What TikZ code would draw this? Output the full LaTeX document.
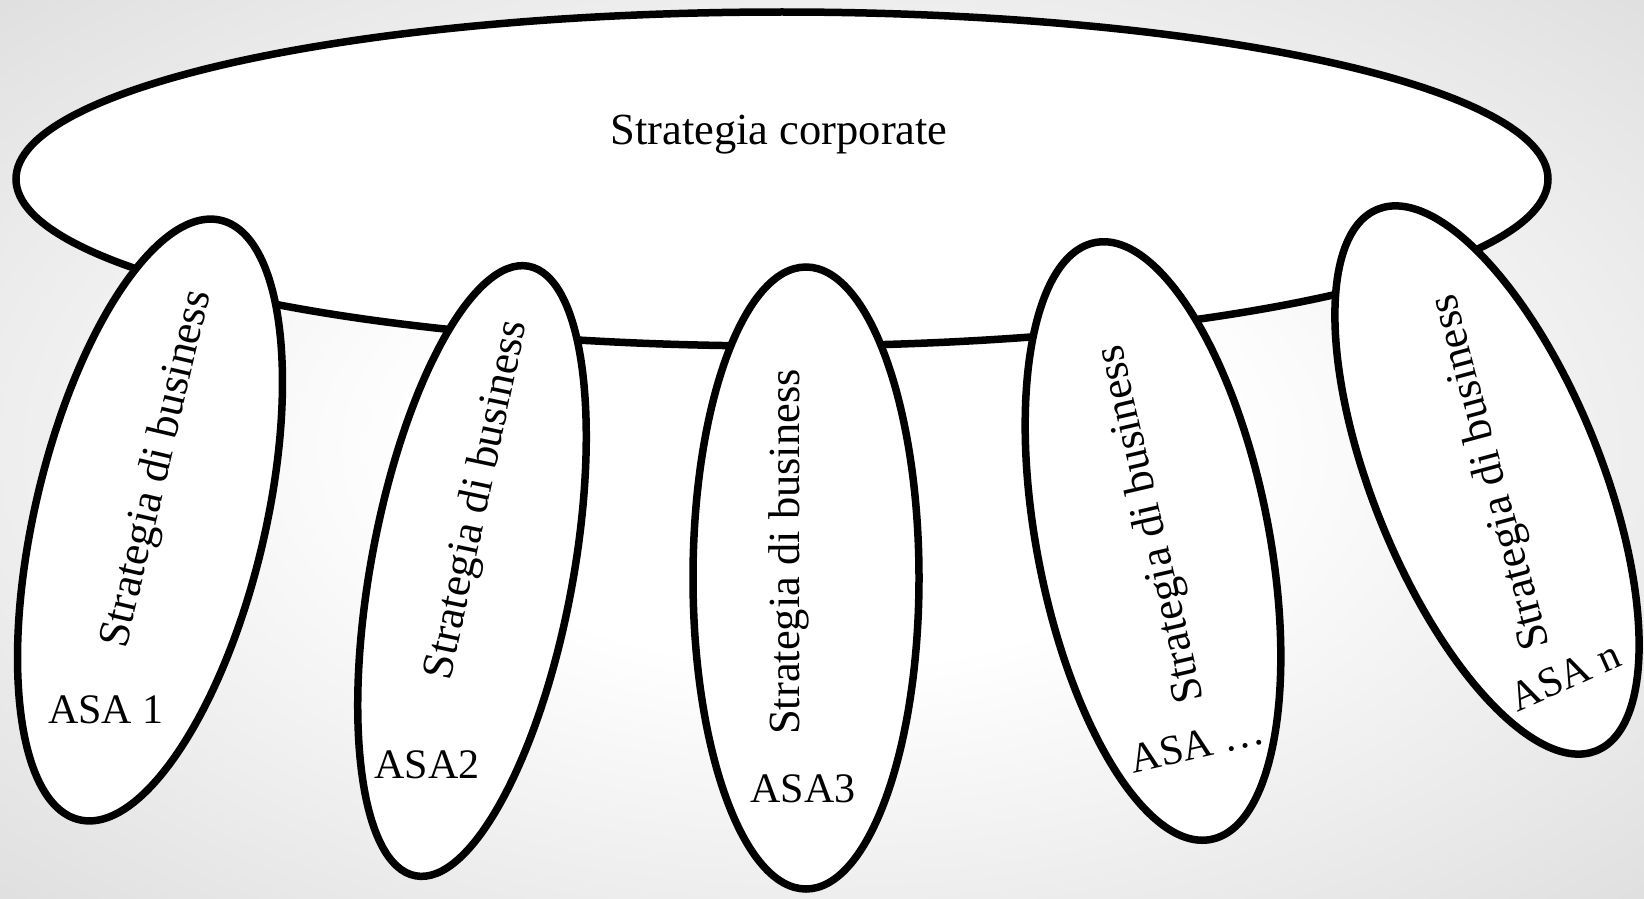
\documentclass[tikz,border=0pt]{standalone}
\usepackage{fontspec}
\setmainfont{Liberation Serif}
\usetikzlibrary{shapes.geometric}
\pgfdeclareradialshading{bgshade}{\pgfpoint{0bp}{0bp}}{color(0bp)=(white); color(12bp)=(white); color(50bp)=(black!20); color(71bp)=(black!30)}
\tikzset{
  blob/.style={ellipse, draw=black, fill=white, line width=7.5pt, inner sep=0pt, outer sep=0pt},
  lbl/.style={font=\fontsize{42}{50}\selectfont, inner sep=0pt, text=black},
  longlbl/.style={font=\fontsize{44.5}{52}\selectfont, inner sep=0pt, text=black},
}
\begin{document}
\begin{tikzpicture}[x=1pt,y=-1pt]
\useasboundingbox (0,0) rectangle (1644,899);
\shade[shading=bgshade] (0,0) rectangle (1644,899);
% corporate ellipse
\node[blob, minimum width=1532pt, minimum height=334pt] (corp) at (782,179) {};
% business ellipses
\node[blob, minimum width=230pt, minimum height=616pt, rotate=-13.3] (b1) at (150,520) {};
\node[blob, minimum width=202pt, minimum height=620pt, rotate=-10.5] (b2) at (472,571) {};
\node[blob, minimum width=226pt, minimum height=622pt] (b3) at (806,578) {};
\node[blob, minimum width=232pt, minimum height=608pt, rotate=11] (b4) at (1153,541) {};
\node[blob, minimum width=228pt, minimum height=584pt, rotate=22] (b5) at (1487,480) {};
% texts
\node[longlbl, anchor=base] (tc) at (779,144) {Strategia corporate};
\node[longlbl, rotate=76.7] (t1) at (158,469) {Strategia di business};
\node[longlbl, rotate=78] (t2) at (478,500) {Strategia di business};
\node[longlbl, rotate=90] (t3) at (789,552) {Strategia di business};
\node[longlbl, rotate=103] (t4) at (1152,524) {Strategia di business};
\node[longlbl, rotate=105] (t5) at (1492,472) {Strategia di business};
% labels
\node[lbl] (l1) at (106,710) {ASA 1};
\node[lbl] (l2) at (427,765) {ASA2};
\node[lbl] (l3) at (803,789) {ASA3};
\node[lbl, rotate=13] (l4) at (1197,745) {ASA …};
\node[lbl, rotate=24] (l5) at (1565,676) {ASA n};
\end{tikzpicture}
\end{document}
